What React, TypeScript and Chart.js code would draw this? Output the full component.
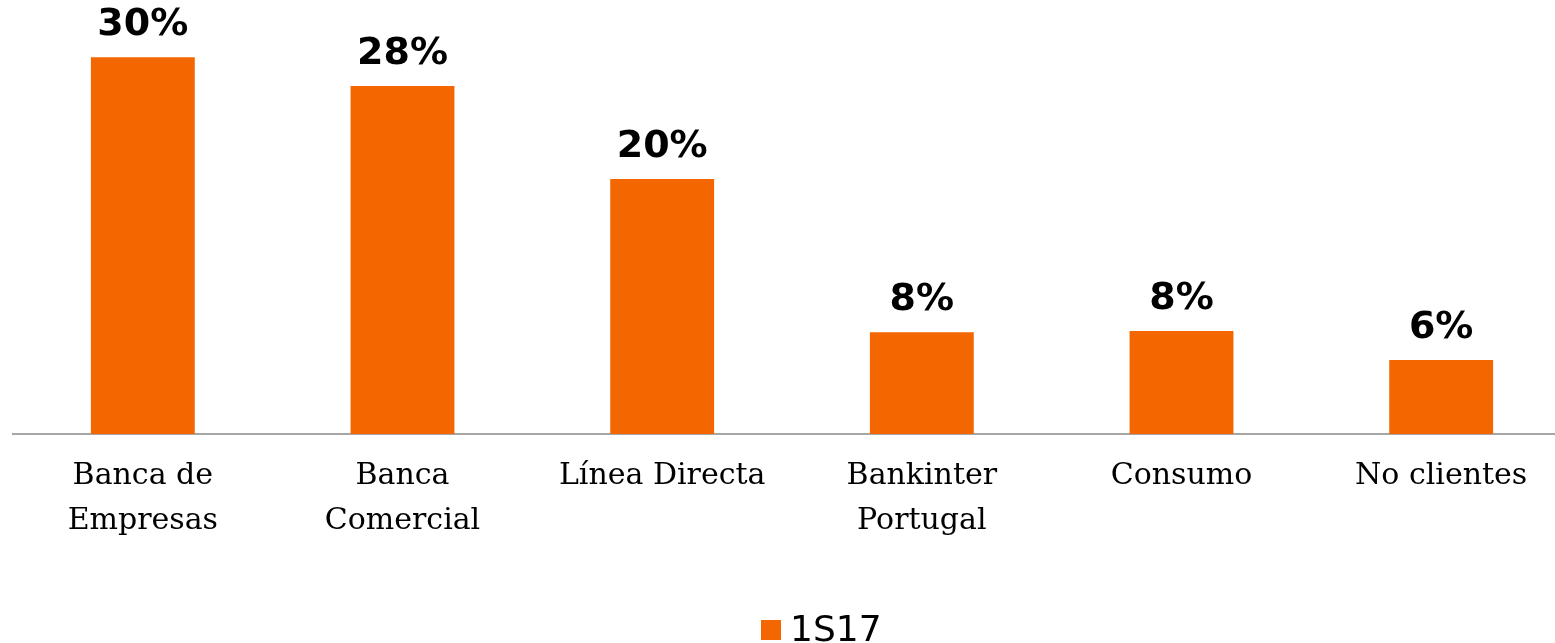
import React, { useEffect, useRef } from "react";
import { Chart, registerables } from "chart.js";

Chart.register(...registerables);

const categories: (string | string[])[] = [
  ["Banca de", "Empresas"],
  ["Banca", "Comercial"],
  "Línea Directa",
  ["Bankinter", "Portugal"],
  "Consumo",
  "No clientes",
];
const seriesName = "1S17";
const values = [30.0, 27.7, 20.3, 8.1, 8.2, 5.9];
const valueLabels = ["30%", "28%", "20%", "8%", "8%", "6%"];
const barColor = "#F46600";

const valueLabelPlugin = {
  id: "valueLabels",
  afterDatasetsDraw(chart: any) {
    const ctx = chart.ctx;
    const meta = chart.getDatasetMeta(0);
    ctx.save();
    ctx.font = "bold 38px 'DejaVu Sans'";
    ctx.fillStyle = "#000000";
    ctx.textAlign = "center";
    ctx.textBaseline = "alphabetic";
    meta.data.forEach((bar: any, i: number) => {
      ctx.fillText(valueLabels[i], bar.x, bar.y - 22);
    });
    ctx.restore();
  },
};

const legendPlugin = {
  id: "customLegend",
  afterDraw(chart: any) {
    const ctx = chart.ctx;
    const ds = chart.data.datasets[0];
    ctx.save();
    const boxX = 761;
    const boxY = 620;
    ctx.fillStyle = ds.backgroundColor;
    ctx.fillRect(boxX, boxY, 20, 20);
    ctx.font = "36px 'DejaVu Sans'";
    ctx.fillStyle = "#000000";
    ctx.textAlign = "left";
    ctx.textBaseline = "alphabetic";
    ctx.fillText(ds.label, boxX + 29, 641);
    ctx.restore();
  },
};

export default function App() {
  const ref = useRef<HTMLCanvasElement>(null);
  useEffect(() => {
    if (!ref.current) return;
    const chart = new Chart(ref.current, {
      type: "bar",
      data: {
        labels: categories,
        datasets: [
          {
            label: seriesName,
            data: values,
            backgroundColor: barColor,
            categoryPercentage: 1,
            barPercentage: 0.4,
          },
        ],
      },
      options: {
        responsive: false,
        animation: false,
        layout: { padding: { left: 13, right: 9, top: 32, bottom: 0 } },
        plugins: {
          legend: { display: false },
          tooltip: { enabled: false },
        },
        scales: {
          x: {
            grid: { display: false, drawTicks: false },
            border: { display: true, color: "#A6A6A6", width: 2 },
            ticks: {
              color: "#000000",
              padding: 20,
              maxRotation: 0,
              autoSkip: false,
              font: { family: "'DejaVu Serif'", size: 30, lineHeight: 1.5 },
            },
            afterFit(scale: any) {
              scale.height = 209;
            },
          },
          y: {
            display: false,
            min: 0,
            max: 32,
          },
        },
      },
      plugins: [valueLabelPlugin, legendPlugin],
    });
    return () => chart.destroy();
  }, []);
  return (
    <div
      style={{
        position: "fixed",
        left: 0,
        top: 0,
        width: 1555,
        height: 643,
        overflow: "hidden",
        background: "#ffffff",
      }}
    >
      <canvas ref={ref} width={1580} height={643} style={{ display: "block" }} />
    </div>
  );
}
